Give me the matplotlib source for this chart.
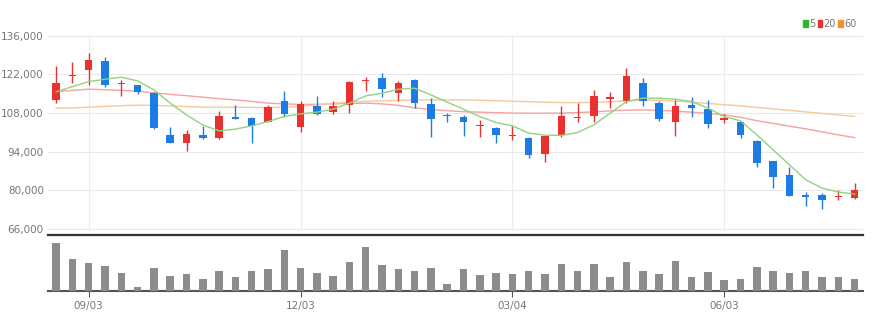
import matplotlib.pyplot as plt
from matplotlib.patches import Patch
from matplotlib.ticker import FuncFormatter
import numpy as np

plt.rcParams['font.family'] = ['Liberation Sans Narrow', 'DejaVu Sans']

# weekly candles (KRW)
opens = [112800, 121300, 123600, 126800, 118400, 118000, 115200, 100100, 97300, 100100,
         99100, 106700, 106200, 104900, 112500, 103100, 110400, 108500, 111000, 119500,
         120600, 115400, 120000, 111300, 107100, 106500, 103200, 102500, 99700, 98900,
         93100, 99900, 106300, 107000, 113200, 112200, 119000, 111800, 104900, 111000,
         109500, 105600, 104700, 97900, 90500, 85600, 77900, 78200, 77600, 77200]
highs = [125100, 126600, 129700, 128400, 120000, 118100, 115800, 103100, 101900, 103400,
         108800, 111000, 106500, 111000, 116100, 112200, 114200, 112400, 119500, 121200,
         122700, 119700, 120300, 113400, 108000, 107400, 105500, 103100, 103400, 99300,
         100100, 110600, 111600, 116400, 115600, 124300, 120600, 112200, 112800, 113700,
         112800, 107600, 105200, 98300, 90700, 88600, 79400, 79000, 80200, 82600]
lows = [111600, 118800, 118200, 117600, 114200, 115000, 102200, 97000, 94300, 98600,
        98600, 105900, 97100, 104600, 106700, 101300, 107400, 107600, 108200, 116100,
        113800, 112400, 109800, 99500, 104900, 99800, 99300, 97300, 98300, 91900,
        90100, 99500, 104900, 104900, 109800, 111600, 110400, 105300, 99800, 106700,
        102500, 104400, 99100, 88300, 80800, 77800, 74200, 73300, 76600, 77000]
closes = [118800, 121600, 127300, 118200, 118700, 115800, 102500, 97100, 100500, 98900,
          107100, 106000, 103400, 110100, 107700, 111300, 107700, 110600, 119400, 119800,
          116700, 119000, 111800, 105900, 106800, 104600, 103600, 100100, 100100, 92900,
          99800, 107100, 106700, 114200, 113600, 121500, 112200, 105800, 110700, 109700,
          104000, 106000, 100100, 89900, 85000, 78000, 77700, 76600, 78000, 80200]

ma5 = [115700, 117600, 119400, 120270, 121000, 119650, 116400, 111600, 107350, 103700,
       101560, 102180, 103375, 104930, 106740, 107716, 108330, 109420, 111600, 114230,
       115200, 116650, 117010, 114590, 111950, 109420, 106740, 104570, 103375, 100730,
       100000, 99900, 100960, 103740, 107970, 112170, 113400, 113400, 113030, 112170,
       109780, 106740, 105200, 100120, 94690, 89260, 83840, 80830, 79390, 78660]
ma20 = [115790, 116220, 116650, 116470, 116220, 115930, 115310, 114770, 114300, 113760,
        113210, 112780, 112240, 111590, 111330, 111150, 111150, 111330, 111510, 111590,
        111330, 110790, 109890, 109240, 108880, 108510, 108330, 108150, 108000, 107970,
        107970, 108000, 108190, 108440, 108800, 109050, 109160, 108980, 108700, 108330,
        107900, 107350, 106450, 105250, 104280, 103270, 102290, 101200, 100120, 99100]
ma60 = [109780, 109890, 110140, 110430, 110680, 110860, 110790, 110610, 110360, 110140,
        110140, 110140, 110070, 110000, 110180, 110360, 110970, 111510, 111980, 112240,
        112420, 112600, 112710, 112780, 112780, 112780, 112670, 112490, 112310, 112130,
        111950, 111800, 111800, 111840, 112090, 112420, 112670, 112670, 112340, 111950,
        111510, 111040, 110610, 110070, 109520, 108980, 108440, 107900, 107350, 106810]

# volume (thousand shares)
volumes = [966, 646, 554, 500, 354, 86, 454, 306, 340, 246,
           406, 286, 406, 434, 814, 454, 366, 306, 586, 874,
           520, 440, 394, 454, 140, 434, 320, 354, 340, 406,
           340, 546, 400, 546, 274, 586, 400, 340, 606, 274,
           380, 220, 234, 486, 406, 366, 400, 286, 274, 246]

tick_idx = [2, 15, 28, 41]
tick_labels = ['09/03', '12/03', '03/04', '06/03']
price_ticks = [66000, 80000, 94000, 108000, 122000, 136000]

UP = '#e8322f'
DOWN = '#1c7ce4'
TXT = '#777777'

o = np.array(opens)
h = np.array(highs)
l = np.array(lows)
c = np.array(closes)
x = np.arange(len(o))
col = np.where(c >= o, UP, DOWN)

fig = plt.figure(figsize=(8.79, 3.27), dpi=100)
ax = fig.add_axes([0.0546, 0.2813, 0.9269, 0.6177])
vax = fig.add_axes([0.0546, 0.1101, 0.9269, 0.1651], sharex=ax)

# price panel
ax.vlines(x, l, h, colors=col, linewidth=1.0, zorder=3)
body = np.maximum(np.abs(c - o), 450)
ax.bar(x, body, bottom=np.minimum(o, c), width=0.46, color=col, zorder=4)
ax.plot(x, ma5, color='#8fd47f', linewidth=1.0, zorder=5)
ax.plot(x, ma20, color='#f3a3a3', linewidth=1.0, zorder=2)
ax.plot(x, ma60, color='#f6c99c', linewidth=1.0, zorder=2)

ax.set_xlim(-0.5, 49.5)
ax.set_ylim(63830, 137000)
ax.set_yticks(price_ticks)
ax.yaxis.set_major_formatter(FuncFormatter(lambda v, p: f'{v:,.0f}'))
ax.tick_params(axis='y', length=0, labelsize=7.5, labelcolor=TXT, pad=3)
ax.tick_params(axis='x', length=0, labelbottom=False)
ax.grid(axis='y', color='#e9e9e9', linewidth=0.8)
for i in tick_idx:
    ax.axvline(i, ymin=0.03, ymax=0.985, color='#ececec', linewidth=0.8, zorder=0)
for s in ['top', 'left', 'right']:
    ax.spines[s].set_visible(False)
ax.spines['bottom'].set_color('#333333')
ax.spines['bottom'].set_linewidth(1.6)

ax.legend(handles=[Patch(color='#2db52d', label='5'),
                   Patch(color='#e8322f', label='20'),
                   Patch(color='#f0932e', label='60')],
          loc='lower right', bbox_to_anchor=(0.997, 1.0), ncol=3, frameon=False,
          fontsize=7, handlelength=0.45, handleheight=0.8, handletextpad=0.15,
          columnspacing=0.25, borderaxespad=0, labelcolor=TXT)

# volume panel
vax.bar(x, volumes, width=0.46, color='#8c8c8c', zorder=3)
vax.set_ylim(0, max(volumes) * 54 / 48.3)
vax.set_yticks([])
vax.set_xticks(tick_idx)
vax.set_xticklabels(tick_labels)
vax.tick_params(axis='x', length=4, color='#555555', labelsize=7.5, labelcolor=TXT, pad=3)
for s in ['top', 'left', 'right']:
    vax.spines[s].set_visible(False)
vax.spines['bottom'].set_color('#555555')
vax.spines['bottom'].set_linewidth(1.5)

fig.savefig('out.png', dpi=100)
